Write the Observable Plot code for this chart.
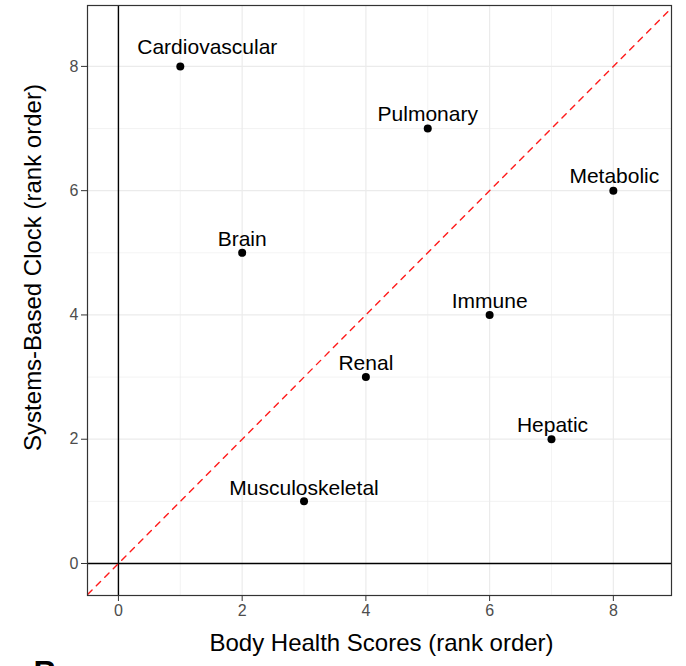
<!DOCTYPE html>
<html>
<head>
<meta charset="utf-8">
<script src="https://cdn.jsdelivr.net/npm/d3@7"></script>
<script src="https://cdn.jsdelivr.net/npm/@observablehq/plot@0.6"></script>
<style>
  html, body { margin: 0; padding: 0; background: #fff; }
  #chart svg { display: block; }
</style>
</head>
<body>
<div id="chart"></div>
<script>
const systems = ["Cardiovascular", "Pulmonary", "Metabolic", "Brain", "Immune", "Renal", "Hepatic", "Musculoskeletal"];
const bodyHealth = [1, 5, 8, 2, 6, 4, 7, 3];
const clockRank = [8, 7, 6, 5, 4, 3, 2, 1];
// label nudges (pixels), as placed by a label-repel in the original
const labelDx = [27, 0, 1, 0, 0, 0, 1, 0];
const labelDy = [-19.5, -14, -14, -14, -14, -14, -14, -13.5];
const majorTicks = [0, 2, 4, 6, 8];
const minorTicks = [1, 3, 5, 7];
const xLabel = "Body Health Scores (rank order)";
const yLabel = "Systems-Based Clock (rank order)";
const panelLetter = "B";
const refLine = [-2, 12];

const data = systems.map((s, i) => ({system: s, x: bodyHealth[i], y: clockRank[i], dx: labelDx[i], dy: labelDy[i]}));
const font = "'Liberation Sans', Arial, Helvetica, sans-serif";

const labelMarks = data.map(d =>
  Plot.text([d], {x: "x", y: "y", text: "system", dx: d.dx, dy: d.dy, fontSize: 21, fill: "#000", lineAnchor: "middle"})
);

const chart = Plot.plot({
  width: 686,
  height: 666,
  marginLeft: 87,
  marginRight: 15,
  marginTop: 5,
  marginBottom: 71,
  style: {fontFamily: font, background: "#fff"},
  x: {domain: [-0.5, 8.94]},
  y: {domain: [-0.515, 8.98]},
  marks: [
    Plot.ruleX(minorTicks, {stroke: "#EBEBEB", strokeWidth: 0.6}),
    Plot.ruleY(minorTicks, {stroke: "#EBEBEB", strokeWidth: 0.6}),
    Plot.ruleX(majorTicks, {stroke: "#EBEBEB", strokeWidth: 1.2}),
    Plot.ruleY(majorTicks, {stroke: "#EBEBEB", strokeWidth: 1.2}),
    Plot.ruleX([0], {stroke: "#000", strokeWidth: 1.4}),
    Plot.ruleY([0], {stroke: "#000", strokeWidth: 1.4}),
    Plot.line(refLine, {x: d => d, y: d => d, stroke: "#FF1A1A", strokeWidth: 1.4, strokeDasharray: "6,6", clip: true}),
    Plot.dot(data, {x: "x", y: "y", r: 4, fill: "#000", stroke: "none"}),
    ...labelMarks,
    Plot.frame({stroke: "#333", strokeWidth: 1.2}),
    Plot.axisX(majorTicks, {tickSize: 6, tickPadding: 3, fontSize: 16, color: "#4D4D4D", stroke: "#333", label: null, tickFormat: d => String(d)}),
    Plot.axisY(majorTicks, {tickSize: 6, tickPadding: 3, fontSize: 16, color: "#4D4D4D", stroke: "#333", label: null, tickFormat: d => String(d)}),
    Plot.text([xLabel], {frameAnchor: "bottom", dx: 2, dy: 48, fontSize: 24, fill: "#000", lineAnchor: "middle", textAnchor: "middle"}),
    Plot.text([yLabel], {frameAnchor: "left", dx: -54, dy: -33, rotate: -90, fontSize: 24, fill: "#000", lineAnchor: "middle", textAnchor: "middle"}),
    Plot.text([panelLetter], {frameAnchor: "bottom-left", dx: -54, dy: 65, textAnchor: "start", lineAnchor: "top", fontSize: 32, fontWeight: "bold", fill: "#000"})
  ]
});
document.getElementById("chart").appendChild(chart);
</script>
</body>
</html>
